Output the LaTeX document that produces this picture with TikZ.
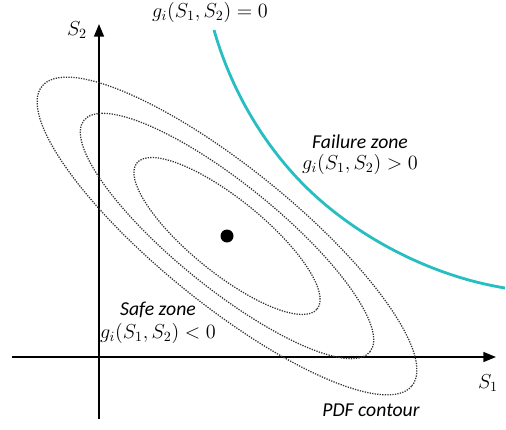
\documentclass[tikz,border=0pt]{standalone}
\usepackage{fontspec}
\newfontfamily\calibri{Carlito}
\usetikzlibrary{positioning,arrows.meta}
\definecolor{limitcyan}{RGB}{38,190,192}

\begin{document}
\begin{tikzpicture}[
  x=0.025cm, y=0.025cm,
  >={Triangle[length=9pt,width=7pt]},
  every node/.style={font=\fontsize{14}{16}\selectfont},
  axis/.style={->, line width=1.4pt},
  contour/.style={line width=0.9pt, dash pattern=on 0.9pt off 0.9pt, black!80},
  zonetext/.style={font=\fontsize{14}{16}\selectfont\calibri\itshape}
]
\useasboundingbox (0,0) rectangle (506,429);

% Ejes
\coordinate (o) at (99,72);
\coordinate (xstart) at (12,72);
\coordinate (xend) at (496,72);
\coordinate (ystart) at (99,10);
\coordinate (yend) at (99,405);
\draw[axis] (xstart) -- (xend);
\draw[axis] (ystart) -- (yend);
\node (s1) at (488,46) {$S_1$};
\node (s2) at (77,399) {$S_2$};

% Contornos de la PDF (elipses giradas)
\coordinate (mu) at (227,193);
\draw[contour, rotate around={-39:(mu)}] (mu) ellipse [x radius=116, y radius=37];
\draw[contour, rotate around={-39:(mu)}] (mu) ellipse [x radius=184, y radius=52];
\draw[contour, rotate around={-39:(mu)}] (mu) ellipse [x radius=238, y radius=68];
\fill (mu) circle (6.5);

% Estado limite
\coordinate (gtop) at (214,399);
\coordinate (gmid) at (300,248);
\coordinate (gend) at (505,141);
\draw[limitcyan, line width=2pt]
  (gtop) .. controls (228,350) and (255,295) .. (gmid)
         .. controls (345,201) and (420,155) .. (gend);
\node (glimit) at (210,417) {$g_i(S_1,S_2)=0$};

% Zonas
\node[zonetext] (failure) at (360,287) {Failure zone};
\node[below=-3pt of failure] (gfail) {$g_i(S_1,S_2)>0$};
\node[zonetext] (safe) at (158,119) {Safe zone};
\node[below=-3pt of safe] (gsafe) {$g_i(S_1,S_2)<0$};
\node[zonetext] (pdf) at (371,19) {PDF contour};

\end{tikzpicture}
\end{document}
